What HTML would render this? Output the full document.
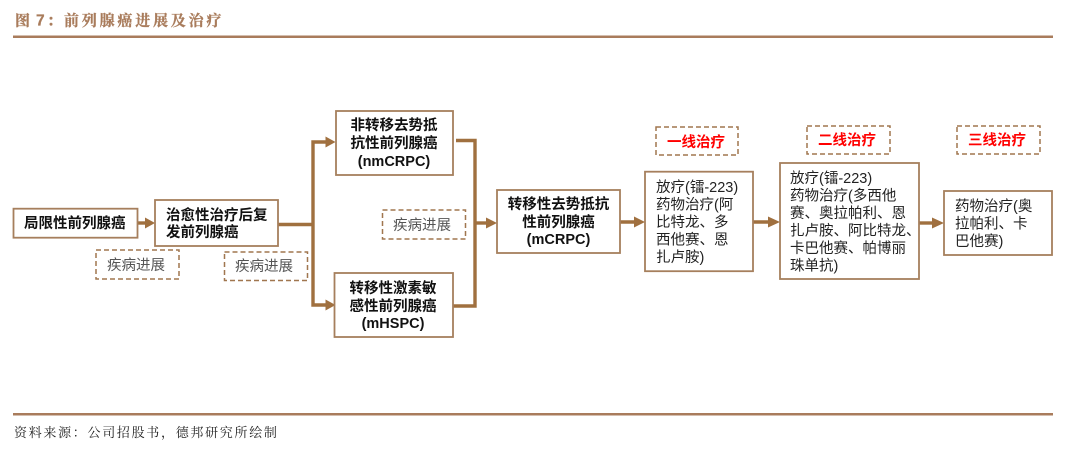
<!DOCTYPE html>
<html lang="zh">
<head>
<meta charset="utf-8">
<style>
html,body{margin:0;padding:0;background:#fff;width:1080px;height:454px;overflow:hidden}
svg{display:block}
text{font-family:"Liberation Sans","Noto Sans CJK SC",sans-serif;font-size:14.5px;fill:#222}
.b{font-weight:700;fill:#111}
.m{text-anchor:middle}
.g{fill:#555}
.r{font-weight:700;fill:#f00}
.s{font-family:"Liberation Serif","Noto Serif CJK SC",serif}
.t{font-size:15px;font-weight:700;fill:#a97c5c;stroke:#a97c5c;stroke-width:.3}
.box{fill:#fff;stroke:#a67f5d;stroke-width:1.8}
.dash{fill:#fff;stroke:#a0764f;stroke-width:1.5;stroke-dasharray:5 3}
.ln{fill:none;stroke:#a0703f;stroke-width:3.4}
.hd{fill:#a0703f}
</style>
</head>
<body>
<svg width="1080" height="454" viewBox="0 0 1080 454" xmlns="http://www.w3.org/2000/svg">
<text class="s t" x="15" y="25.500">图</text>
<text class="t" x="36" y="25.500" style="font-size:15.500px">7</text>
<text class="s t" x="47" y="25.500">&#xFF1A;</text>
<text class="s t" x="64" y="25.500" style="letter-spacing:2.8px">前列腺癌进展及治疗</text>
<rect x="13" y="35.500" width="1040" height="2.500" fill="#a97c5c"/>
<rect x="13" y="413" width="1040" height="2.500" fill="#a97c5c"/>
<text class="s" x="14" y="437" style="font-size:13px;fill:#222;letter-spacing:1.7px">资料来源&#xFF1A;公司招股书&#xFF0C;德邦研究所绘制</text>

<path class="ln" d="M138 223H148"/><polygon class="hd" points="145,217.500 155,223 145,228.500"/>
<path class="ln" d="M278 224.500H313"/>
<path class="ln" d="M328 142H313V305H328"/>
<polygon class="hd" points="325.500,136.500 335.500,142 325.500,147.500"/>
<polygon class="hd" points="325.500,299.500 335.500,305 325.500,310.500"/>
<path class="ln" d="M456 140.500H475V306H453"/>
<path class="ln" d="M475 223H490"/><polygon class="hd" points="486,217.500 497,223 486,228.500"/>
<path class="ln" d="M620 222H637"/><polygon class="hd" points="634,216.500 645,222 634,227.500"/>
<path class="ln" d="M753 222H771"/><polygon class="hd" points="768,216.500 780,222 768,227.500"/>
<path class="ln" d="M919 223H935"/><polygon class="hd" points="932,217.500 944,223 932,228.500"/>

<rect class="box" x="13.500" y="208.700" width="124" height="29"/>
<rect class="box" x="155" y="200" width="123" height="46"/>
<rect class="box" x="336" y="111" width="117" height="64"/>
<rect class="box" x="334.500" y="273" width="118.500" height="64"/>
<rect class="box" x="497" y="190" width="123" height="63"/>
<rect class="box" x="645" y="171.700" width="108" height="99.500"/>
<rect class="box" x="780" y="163" width="139" height="116"/>
<rect class="box" x="944" y="191" width="108" height="64"/>

<rect class="dash" x="96" y="250" width="83" height="29"/>
<rect class="dash" x="224.500" y="252" width="83" height="28.500"/>
<rect class="dash" x="382.500" y="210" width="83" height="29"/>
<rect class="dash" x="656" y="127" width="82" height="28"/>
<rect class="dash" x="807" y="126" width="83" height="28"/>
<rect class="dash" x="957" y="126" width="83" height="28"/>

<text class="b" x="24" y="228">局限性前列腺癌</text>
<text class="b" x="166" y="220">治愈性治疗后复</text>
<text class="b" x="166" y="237">发前列腺癌</text>

<text class="g" x="107" y="270">疾病进展</text>
<text class="g" x="235" y="271">疾病进展</text>
<text class="g" x="393" y="230">疾病进展</text>

<text class="b m" x="394" y="130">非转移去势抵</text>
<text class="b m" x="394" y="148">抗性前列腺癌</text>
<text class="b m" x="394" y="166">(nmCRPC)</text>

<text class="b m" x="393" y="293">转移性激素敏</text>
<text class="b m" x="393" y="311">感性前列腺癌</text>
<text class="b m" x="393" y="328">(mHSPC)</text>

<text class="b m" x="558.500" y="209">转移性去势抵抗</text>
<text class="b m" x="558.500" y="227">性前列腺癌</text>
<text class="b m" x="558.500" y="244">(mCRPC)</text>

<text class="r m" x="696" y="147">一线治疗</text>
<text class="r m" x="847" y="145">二线治疗</text>
<text class="r m" x="997" y="145">三线治疗</text>

<text x="656" y="192">放疗(镭-223)</text>
<text x="656" y="209.500">药物治疗(阿</text>
<text x="656" y="227">比特龙、多</text>
<text x="656" y="244.500">西他赛、恩</text>
<text x="656" y="262">扎卢胺)</text>

<text x="790" y="183">放疗(镭-223)</text>
<text x="790" y="200.500">药物治疗(多西他</text>
<text x="790" y="218">赛、奥拉帕利、恩</text>
<text x="790" y="235.500">扎卢胺、阿比特龙、</text>
<text x="790" y="253">卡巴他赛、帕博丽</text>
<text x="790" y="270.500">珠单抗)</text>

<text x="955" y="211">药物治疗(奥</text>
<text x="955" y="228.500">拉帕利、卡</text>
<text x="955" y="246">巴他赛)</text>
</svg>
</body>
</html>
